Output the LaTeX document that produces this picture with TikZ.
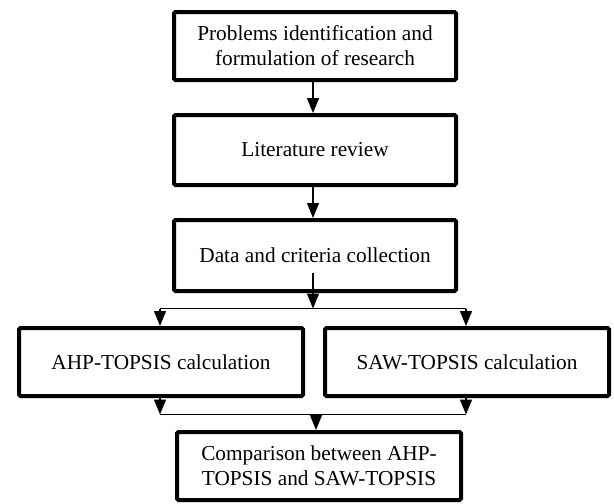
\documentclass[tikz,border=0pt]{standalone}
\usepackage{fontspec}
\setmainfont{Liberation Serif}
\usetikzlibrary{arrows.meta,calc}
\begin{document}
\begin{tikzpicture}[x=1pt,y=-1pt,
  box/.style={draw, line width=4pt, rounded corners=1.5pt, fill=white, align=center,
    font=\fontsize{21.3}{25}\selectfont, inner sep=0pt},
  bigbox/.style={box, minimum width=282pt, minimum height=68pt},
  conn/.style={line width=1.3pt},
  arr/.style={conn, -{Triangle[length=15pt,width=12pt]}}]
\useasboundingbox (0,0) rectangle (614,504);
\node[bigbox] (b1) at (315,46) {Problems identification and\\formulation of research};
\node[bigbox, minimum height=70pt] (b2) at (315,150) {Literature review};
\node[bigbox, minimum height=71pt] (b3) at (315,255.5) {Data and criteria collection};
\node[bigbox, minimum width=284pt] (b4) at (161,362) {AHP-TOPSIS calculation};
\node[bigbox, minimum width=284pt] (b5) at (467,362) {SAW-TOPSIS calculation};
\node[bigbox, minimum width=284pt] (b6) at (319,466) {Comparison between AHP-\\TOPSIS and SAW-TOPSIS};
\coordinate (s3) at (313,273);
\coordinate (j1) at (313,308.5);
\coordinate (jl) at (160,308.5);
\coordinate (jr) at (466,308.5);
\coordinate (kl) at (160,414.5);
\coordinate (kr) at (466,414.5);
\coordinate (km) at (316,414.5);
\draw[arr] ($(b1.south)+(-2,0)$) -- ($(b2.north)+(-2,0)$);
\draw[arr] ($(b2.south)+(-2,0)$) -- ($(b3.north)+(-2,0)$);
\draw[arr] (s3) -- (j1);
\draw[conn] (jl) -- (jr);
\draw[arr] (jl) -- (jl |- b4.north);
\draw[arr] (jr) -- (jr |- b5.north);
\draw[arr] (kl |- b4.south) -- (kl);
\draw[arr] (kr |- b5.south) -- (kr);
\draw[conn] (kl) -- (kr);
\draw[arr] (km) -- (km |- b6.north);
\end{tikzpicture}
\end{document}
